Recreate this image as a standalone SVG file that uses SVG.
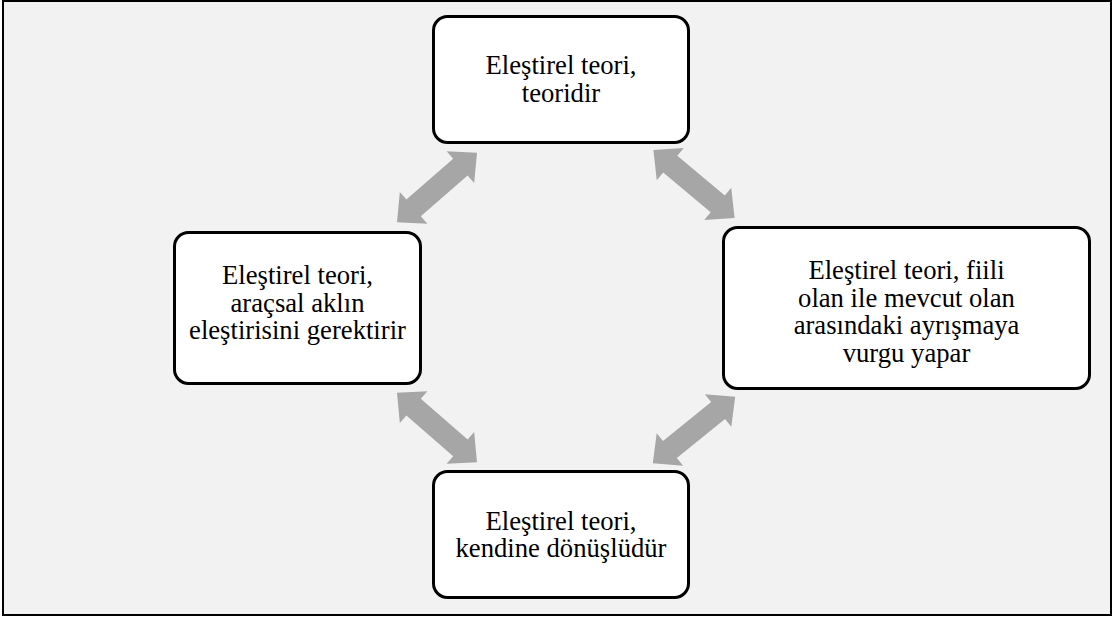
<svg xmlns="http://www.w3.org/2000/svg" width="1113" height="621" viewBox="0 0 1113 621">
<style>
.box{fill:#ffffff;stroke:#000000;stroke-width:3}
.arr{fill:#a6a6a6}
</style>
<defs>
<polygon id="dblarrow" class="arr" points="-53,0 -31,-21 -31,-11 31,-11 31,-21 53,0 31,21 31,11 -31,11 -31,21"/>
</defs>
<rect x="3" y="1" width="1108" height="614" fill="#f2f2f2" stroke="#000000" stroke-width="2"/>
<g id="connectors">
<use href="#dblarrow" transform="translate(437,187.5) rotate(-41)"/>
<use href="#dblarrow" transform="translate(694,184) rotate(40)"/>
<use href="#dblarrow" transform="translate(437,427.5) rotate(41)"/>
<use href="#dblarrow" transform="translate(694,430) rotate(-39)"/>
</g>
<g font-family="'Liberation Serif', 'Times New Roman', serif" font-size="26.67" fill="#000000" text-anchor="middle">
<g id="node-top">
<rect class="box" x="433.5" y="16.5" width="255" height="126" rx="14"/>
<text x="561" y="74">Eleştirel teori,</text>
<text x="561" y="101.5">teoridir</text>
</g>
<g id="node-left">
<rect class="box" x="174.5" y="232.5" width="246" height="151" rx="14"/>
<text x="297.5" y="284">Eleştirel teori,</text>
<text x="297.5" y="311.5">araçsal aklın</text>
<text x="297.5" y="339">eleştirisini gerektirir</text>
</g>
<g id="node-right">
<rect class="box" x="723.5" y="227.5" width="366" height="161" rx="14"/>
<text x="906.5" y="279">Eleştirel teori, fiili</text>
<text x="906.5" y="306.5">olan ile mevcut olan</text>
<text x="906.5" y="334">arasındaki ayrışmaya</text>
<text x="906.5" y="361.5">vurgu yapar</text>
</g>
<g id="node-bottom">
<rect class="box" x="433.5" y="471.5" width="255" height="126" rx="14"/>
<text x="561" y="529.5">Eleştirel teori,</text>
<text x="561" y="557">kendine dönüşlüdür</text>
</g>
</g>
</svg>
